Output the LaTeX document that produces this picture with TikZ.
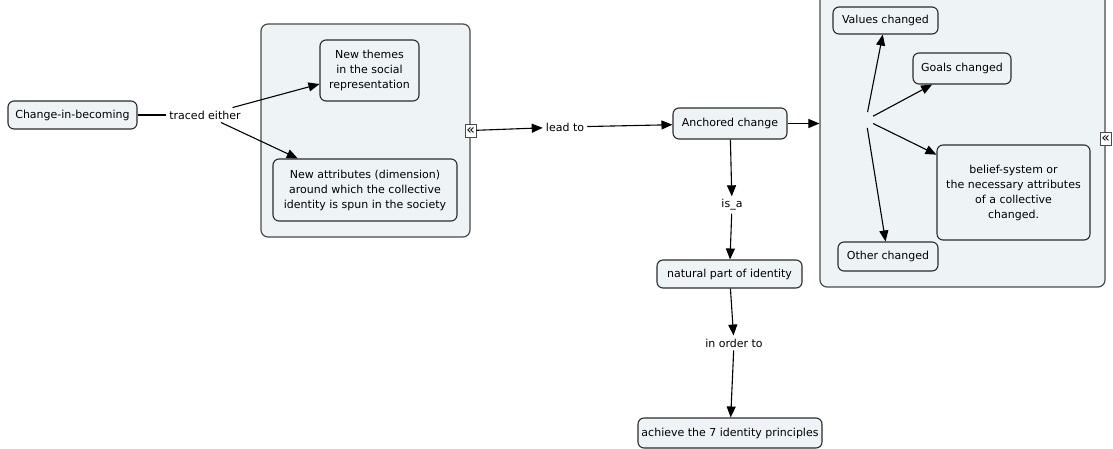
\documentclass[tikz,border=0pt]{standalone}
\usepackage{fontspec}
\setmainfont{DejaVu Sans}
\usetikzlibrary{arrows.meta}

\definecolor{boxfill}{HTML}{EEF3F6}
\definecolor{boxline}{HTML}{2B2B2B}
\definecolor{groupline}{HTML}{4A4A4A}

\tikzset{
  concept/.style={draw=boxline, line width=1.1pt, fill=boxfill, rounded corners=6pt, align=center, inner sep=2pt},
  group/.style={draw=groupline, line width=1.2pt, fill=boxfill, rounded corners=7pt},
  linkword/.style={inner sep=3pt},
  marker/.style={draw=groupline, line width=0.9pt, fill=white, inner sep=0pt, minimum width=11pt, minimum height=13pt, font=\fontsize{14}{14}\selectfont},
  link/.style={-{Triangle[length=11pt,width=9pt]}, line width=1.1pt, black},
}

\begin{document}
\begin{tikzpicture}[x=1pt, y=-1pt, font=\fontsize{11}{15}\selectfont]
\clip (0,0) rectangle (1113,448);

% groups
\node[group, minimum width=209pt, minimum height=213pt] (grpA) at (365.5,130.5) {};
\node[group, minimum width=285pt, minimum height=297pt] (grpB) at (962.5,138.5) {};

% concepts
\node[concept, minimum width=129pt, minimum height=28pt] (change) at (72.5,115) {Change-in-becoming};
\node[concept, minimum width=99pt, minimum height=61pt] (themes) at (369.5,70.5)
{New themes\\in the social\\representation};
\node[concept, minimum width=184pt, minimum height=62pt] (attrs) at (365,190)
{New attributes (dimension)\\around which the collective\\identity is spun in the society};
\node[concept, minimum width=114pt, minimum height=31pt] (anch) at (730,123.5) {Anchored change};
\node[concept, minimum width=105pt, minimum height=27pt] (values) at (885.5,20.5) {Values changed};
\node[concept, minimum width=98pt, minimum height=31pt] (goals) at (962,68.5) {Goals changed};
\node[concept, minimum width=153pt, minimum height=95pt] (belief) at (1013.5,192.5)
{belief-system or\\the necessary attributes\\of a collective\\changed.};
\node[concept, minimum width=100pt, minimum height=29pt] (other) at (888,256.5) {Other changed};
\node[concept, minimum width=145pt, minimum height=28pt] (natural) at (729.5,274) {natural part of identity};
\node[concept, minimum width=184pt, minimum height=30pt] (achieve) at (730,433) {achieve the 7 identity principles};

% markers
\node[marker] (markA) at (grpA.east) {«};
\node[marker] (markB) at (grpB.east) {«};

% link words
\node[linkword] (traced) at (205,115) {traced either};
\node[linkword] (lead) at (565,127) {lead to};
\node[linkword] (isa) at (732,205) {is\_a};
\node[linkword] (order) at (734,343) {in order to};
\coordinate (hub) at (866,120);

% connectors
\draw[line width=1.1pt] (change) -- (traced);
\draw[link] (traced) -- (themes);
\draw[link] (traced) -- (attrs);
\draw[link] (markA) -- (lead);
\draw[link] (lead) -- (anch);
\draw[link] (anch) -- (anch -| grpB.west);
\draw[link, shorten <=8pt] (hub) -- (values);
\draw[link, shorten <=8pt] (hub) -- (goals);
\draw[link, shorten <=8pt] (hub) -- (belief);
\draw[link, shorten <=8pt] (hub) -- (other);
\draw[link] (anch) -- (isa);
\draw[link] (isa) -- (natural);
\draw[link] (natural) -- (order);
\draw[link] (order) -- (achieve);
\end{tikzpicture}
\end{document}
